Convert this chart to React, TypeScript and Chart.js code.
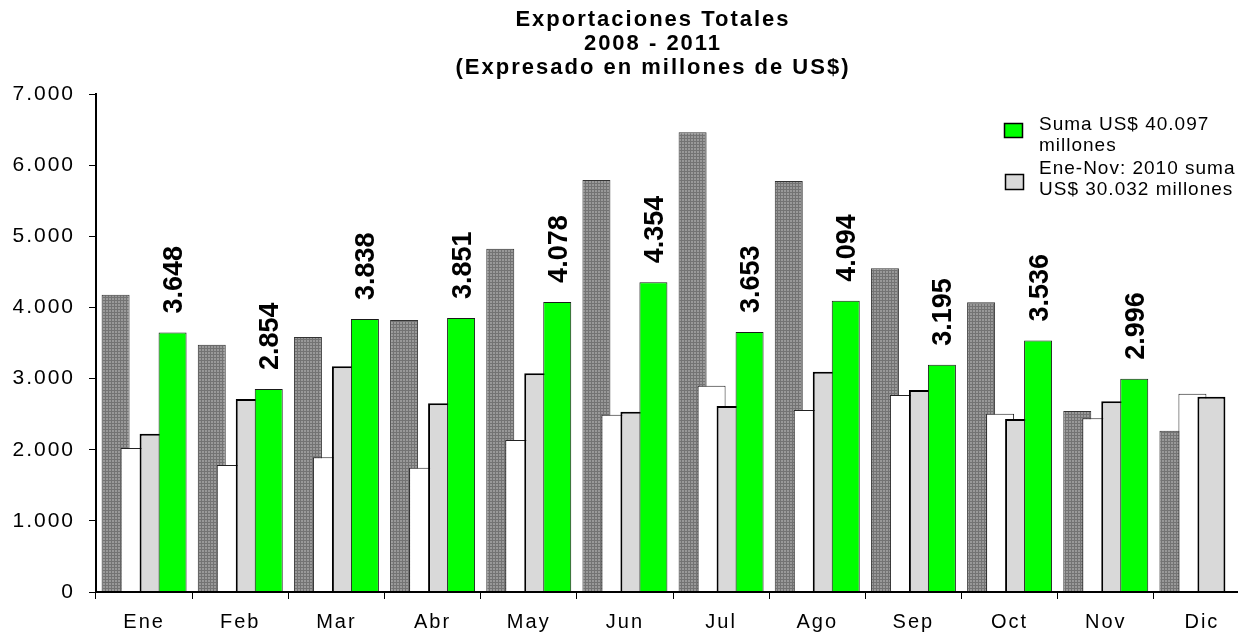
import React, { useEffect, useRef } from 'react';
import { Chart, registerables } from 'chart.js';

Chart.register(...registerables);

const FONT = "'Liberation Sans', Arial, Helvetica, sans-serif";

const months = ['Ene', 'Feb', 'Mar', 'Abr', 'May', 'Jun', 'Jul', 'Ago', 'Sep', 'Oct', 'Nov', 'Dic'];
const exp2008 = [4179, 3477, 3584, 3823, 4826, 5791, 6461, 5777, 4550, 4072, 2544, 2268];
const exp2009 = [2024, 1785, 1893, 1748, 2137, 2493, 2900, 2558, 2769, 2507, 2441, 2788];
const exp2010 = [2225, 2713, 3172, 2652, 3074, 2535, 2615, 3097, 2839, 2430, 2680, 2745];
const exp2011: (number | null)[] = [3648, 2854, 3838, 3851, 4078, 4354, 3653, 4094, 3195, 3536, 2996, null];

const titleLines = ['Exportaciones Totales', '2008 - 2011', '(Expresado en millones de US$)'];
const legendGreen = ['Suma US$ 40.097', 'millones'];
const legendGray = ['Ene-Nov: 2010 suma', 'US$ 30.032 millones'];

const yMin = 0;
const yMax = 7000;
const yStep = 1000;

const fmt = (v: number) => Math.round(v).toString().replace(/\B(?=(\d{3})+(?!\d))/g, '.');

function makePattern(ctx: CanvasRenderingContext2D) {
  const c = document.createElement('canvas');
  c.width = 3;
  c.height = 3;
  const p = c.getContext('2d')!;
  p.fillStyle = '#999999';
  p.fillRect(0, 0, 3, 3);
  p.fillStyle = '#737373';
  p.fillRect(0, 0, 3, 1);
  p.fillRect(0, 0, 1, 3);
  return ctx.createPattern(c, 'repeat')!;
}

const drawOrderPlugin = {
  id: 'drawOrder',
  beforeDraw(chart: any) {
    chart.ctx.letterSpacing = '2px';
  },
  beforeDatasetsDraw(chart: any) {
    const ctx = chart.ctx;
    ctx.letterSpacing = '0px';
    const a = chart.chartArea;
    ctx.save();
    ctx.beginPath();
    ctx.rect(a.left, a.top - 2, a.right - a.left, a.bottom - a.top + 4);
    ctx.clip();
    for (let i = 0; i < chart.data.datasets.length; i++) {
      const meta = chart.getDatasetMeta(i);
      if (!meta.hidden) meta.controller.draw();
    }
    ctx.restore();
    return false;
  },
};

const labelsLegendPlugin = {
  id: 'labelsLegend',
  afterDraw(chart: any) {
    const ctx: CanvasRenderingContext2D = chart.ctx;
    ctx.save();
    // title
    (ctx as any).letterSpacing = '2px';
    ctx.font = `bold 22px ${FONT}`;
    ctx.fillStyle = '#000';
    ctx.textAlign = 'center';
    ctx.textBaseline = 'middle';
    const titleY = [20, 44, 68];
    titleLines.forEach((t, k) => ctx.fillText(t, 653, titleY[k]));

    (ctx as any).letterSpacing = '0px';
    // value labels on 2011 bars
    const meta = chart.getDatasetMeta(3);
    ctx.font = `bold 27px ${FONT}`;
    ctx.textAlign = 'left';
    ctx.textBaseline = 'middle';
    meta.data.forEach((bar: any, i: number) => {
      const v = exp2011[i];
      if (v == null) return;
      ctx.save();
      ctx.translate(bar.x + 2, bar.y - 19);
      ctx.rotate(-Math.PI / 2);
      ctx.fillText(fmt(v), 0, 0);
      ctx.restore();
    });
    // legend
    const ds = chart.data.datasets;
    const items = [
      { d: ds[3], lines: legendGreen, box: [1004, 123, 19, 15], y: [125, 146] },
      { d: ds[2], lines: legendGray, box: [1005, 174, 19, 16], y: [169, 190] },
    ];
    ctx.font = `19px ${FONT}`;
    (ctx as any).letterSpacing = '1px';
    items.forEach((it) => {
      const [bx, by, bw, bh] = it.box;
      ctx.fillStyle = it.d.backgroundColor;
      ctx.fillRect(bx, by, bw, bh);
      ctx.strokeStyle = '#000';
      ctx.lineWidth = 1.5;
      ctx.strokeRect(bx + 0.5, by + 0.5, bw - 1, bh - 1);
      ctx.fillStyle = '#000';
      it.lines.forEach((t, k) => ctx.fillText(t, 1039, it.y[k]));
    });
    ctx.restore();
  },
};

export default function App() {
  const ref = useRef<HTMLCanvasElement>(null);
  useEffect(() => {
    const canvas = ref.current!;
    const ctx = canvas.getContext('2d')!;
    const pattern = makePattern(ctx);
    const common = {
      categoryPercentage: 0.79,
      barPercentage: 1.474,
      borderSkipped: 'start' as const,
    };
    const chart = new Chart(canvas, {
      type: 'bar',
      data: {
        labels: months,
        datasets: [
          { label: '2008', data: exp2008, backgroundColor: pattern as any, borderColor: '#333', borderWidth: 1, ...common },
          { label: '2009', data: exp2009, backgroundColor: '#ffffff', borderColor: '#222', borderWidth: 1, ...common },
          { label: '2010', data: exp2010, backgroundColor: '#d9d9d9', borderColor: '#000', borderWidth: 2, ...common },
          { label: '2011', data: exp2011, backgroundColor: '#00ff00', borderColor: '#1a1a1a', borderWidth: 1, ...common },
        ],
      },
      options: {
        responsive: false,
        animation: false,
        events: [],
        layout: { padding: { left: 0, right: 0, top: 94, bottom: 0 } },
        plugins: {
          legend: { display: false },
          tooltip: { enabled: false },
          title: { display: false },
        },
        scales: {
          x: {
            grid: { display: true, drawOnChartArea: false, drawTicks: true, tickLength: 7, color: '#000', lineWidth: 1, offset: true },
            border: { display: true, color: '#000', width: 2, z: 1 },
            ticks: { color: '#000', font: { family: FONT, size: 20 }, padding: 11, maxRotation: 0, autoSkip: false },
            afterFit: (s: any) => { s.height = 42; },
          },
          y: {
            min: yMin,
            max: yMax,
            grid: { display: true, drawOnChartArea: false, drawTicks: true, tickLength: 7, color: '#000', lineWidth: 1 },
            border: { display: true, color: '#000', width: 2 },
            ticks: { stepSize: yStep, color: '#000', font: { family: FONT, size: 21 }, padding: 14, callback: (v: any) => fmt(Number(v)) },
            afterFit: (s: any) => { s.width = 96; },
          },
        },
      },
      plugins: [drawOrderPlugin, labelsLegendPlugin],
    });
    return () => chart.destroy();
  }, []);
  return (
    <div style={{ position: 'fixed', left: 0, top: 0, width: 1250, height: 634, background: '#fff' }}>
      <canvas ref={ref} width={1250} height={634} />
    </div>
  );
}
